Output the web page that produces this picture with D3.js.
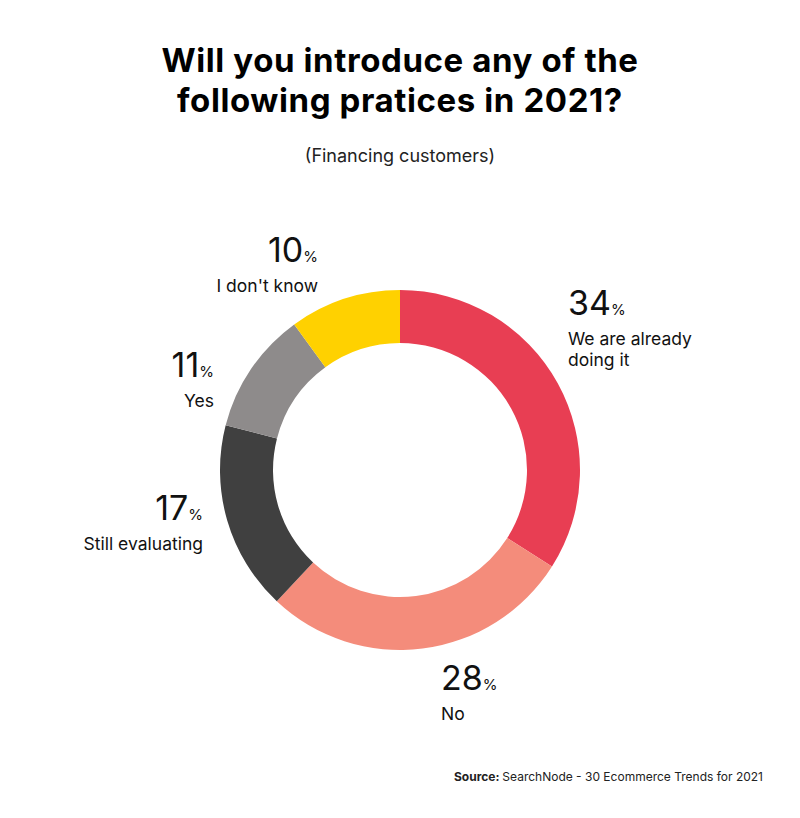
<!DOCTYPE html>
<html><head><meta charset="utf-8">
<script src="https://cdn.jsdelivr.net/npm/d3@7"></script>
<style>body{margin:0;background:#fff}</style>
</head><body><div id="chart"></div>
<script>
const categories = ["We are already doing it", "No", "Still evaluating", "Yes", "I don't know"];
const values = [34, 28, 17, 11, 10];
const colors = ["#E83E53", "#F48C7B", "#404040", "#8E8B8B", "#FFD100"];
// label layout: [x, y, anchor, lines]
const labelPos = [
  [568, 315, "start", ["We are already", "doing it"]],
  [441, 690, "start", ["No"]],
  [203, 520, "end", ["Still evaluating"]],
  [214, 377, "end", ["Yes"]],
  [318, 262, "end", ["I don't know"]]
];

const width = 800, height = 818;
const cx = 400, cy = 470;
const font = "Inter, 'Open Sans', sans-serif";

const svg = d3.select("#chart").append("svg")
  .attr("width", width).attr("height", height)
  .style("font-family", font);

svg.append("text").attr("x", 400).attr("y", 72).attr("text-anchor", "middle")
  .attr("font-size", 33).attr("font-weight", 700).attr("letter-spacing", 0.6).text("Will you introduce any of the");
svg.append("text").attr("x", 400).attr("y", 112).attr("text-anchor", "middle")
  .attr("font-size", 33).attr("font-weight", 700).attr("letter-spacing", 0.6).text("following pratices in 2021?");
svg.append("text").attr("x", 400).attr("y", 162).attr("text-anchor", "middle")
  .attr("font-size", 18).attr("fill", "#222").text("(Financing customers)");

const pie = d3.pie().sort(null).value(d => d)(values);
const arc = d3.arc().innerRadius(127).outerRadius(180);

svg.append("g").attr("transform", `translate(${cx},${cy})`)
  .selectAll("path").data(pie).join("path")
  .attr("d", arc).attr("fill", (d, i) => colors[i]);

labelPos.forEach((p, i) => {
  const t = svg.append("text").attr("x", p[0]).attr("y", p[1]).attr("text-anchor", p[2]).attr("fill", "#111");
  t.append("tspan").attr("font-size", 34).text(values[i]);
  t.append("tspan").attr("font-size", 15).text("%");
  p[3].forEach((line, j) => {
    svg.append("text").attr("x", p[0]).attr("y", p[1] + 30 + j * 21)
      .attr("text-anchor", p[2]).attr("font-size", 17.5).attr("fill", "#111").text(line);
  });
});

const src = svg.append("text").attr("x", 763).attr("y", 781).attr("text-anchor", "end")
  .attr("font-size", 12).attr("fill", "#222");
src.append("tspan").attr("font-weight", 700).text("Source: ");
src.append("tspan").text("SearchNode - 30 Ecommerce Trends for 2021");
</script>
</body></html>
